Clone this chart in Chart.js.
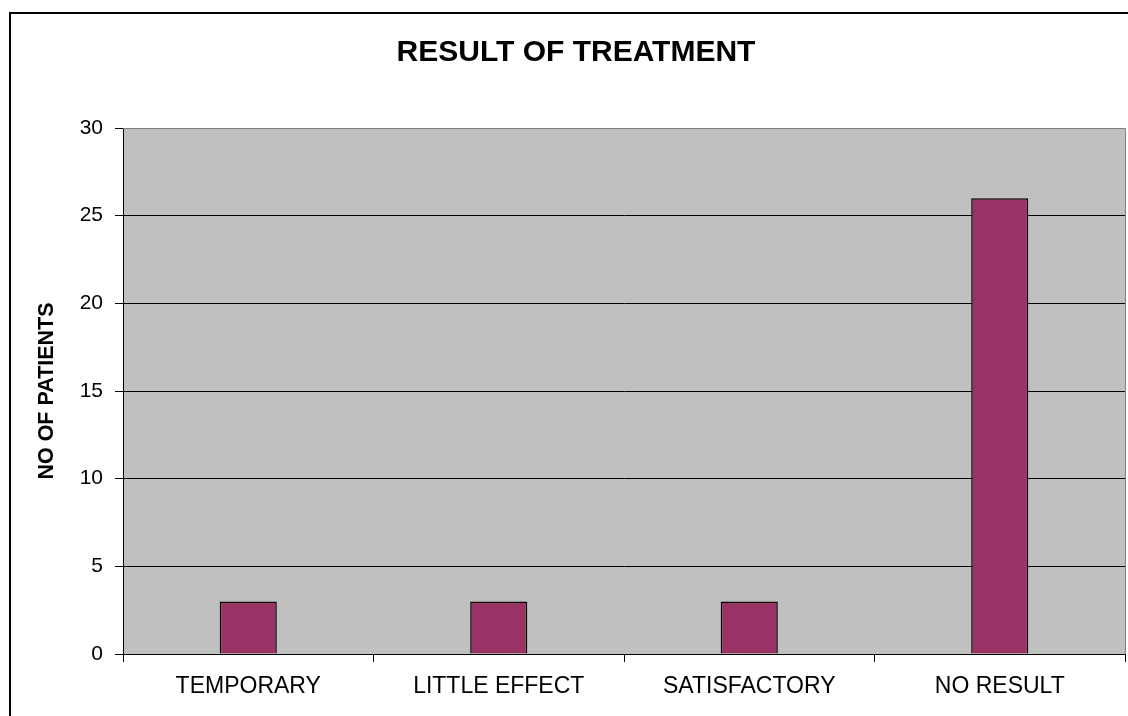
<!DOCTYPE html>
<html>
<head>
<meta charset="utf-8">
<title>Result of treatment</title>
<script src="https://cdn.jsdelivr.net/npm/chart.js@4.4.7/dist/chart.umd.js"></script>
<style>
  html, body { margin: 0; padding: 0; background: #fff; }
  #wrap { width: 1128px; height: 716px; }
</style>
</head>
<body>
<div id="wrap"><canvas id="chart" width="1128" height="716"></canvas></div>
<script>
// 数据
const categories = ["TEMPORARY", "LITTLE EFFECT", "SATISFACTORY", "NO RESULT"];
const patients = [3, 3, 3, 26];
const yTicks = [0, 5, 10, 15, 20, 25, 30];

const FONT = "'Liberation Sans', Arial, sans-serif";

// 灰色绘图区 + 外框
const frame = {
  id: "frame",
  beforeDraw(chart) {
    const { ctx, chartArea: a } = chart;
    ctx.save();
    ctx.fillStyle = "#fff";
    ctx.fillRect(0, 0, chart.width, chart.height);
    ctx.fillStyle = "#C0C0C0";
    ctx.fillRect(a.left, a.top, a.right - a.left, a.bottom - a.top);
    ctx.restore();
  },
  afterDraw(chart) {
    const { ctx, chartArea: a } = chart;
    ctx.save();
    ctx.strokeStyle = "#808080";
    ctx.lineWidth = 1;
    ctx.beginPath();
    ctx.moveTo(a.left, a.top + 0.5);
    ctx.lineTo(a.right + 0.5, a.top + 0.5);
    ctx.lineTo(a.right + 0.5, a.bottom);
    ctx.stroke();
    ctx.strokeStyle = "#000";
    ctx.lineWidth = 2;
    ctx.strokeRect(10, 13, 1400, 900);
    ctx.restore();
  }
};

new Chart(document.getElementById("chart"), {
  type: "bar",
  data: {
    labels: categories,
    datasets: [{
      data: patients,
      backgroundColor: "#993366",
      borderColor: "#000",
      borderWidth: 1.5,
      categoryPercentage: 1,
      barPercentage: 0.228
    }]
  },
  options: {
    responsive: false,
    animation: false,
    layout: { padding: { left: 27, top: 0, right: 3, bottom: 0 } },
    plugins: {
      legend: { display: false },
      tooltip: { enabled: false },
      title: {
        display: true,
        text: "RESULT OF TREATMENT",
        color: "#000",
        font: { family: FONT, size: 30, weight: "bold" },
        padding: { top: 34.5, bottom: 57.5 }
      }
    },
    scales: {
      x: {
        afterFit: (s) => { s.height = 62; },
        grid: {
          offset: true,
          drawOnChartArea: false,
          tickLength: 8,
          tickColor: "#000"
        },
        border: { color: "#000", width: 1 },
        ticks: {
          color: "#000",
          padding: 11,
          font: { family: FONT, size: 23 }
        }
      },
      y: {
        min: 0,
        max: 30,
        afterFit: (s) => { s.width = 96; },
        afterBuildTicks: (s) => { s.ticks = yTicks.map((v) => ({ value: v })); },
        grid: {
          color: (c) => (c.tick && c.tick.value === 30 ? "#808080" : "#000"),
          tickColor: "#000",
          tickLength: 8
        },
        border: { color: "#000", width: 1 },
        ticks: {
          color: "#000",
          padding: 12,
          font: { family: FONT, size: 21 }
        },
        title: {
          display: true,
          text: "NO OF PATIENTS",
          color: "#000",
          font: { family: FONT, size: 21.5, weight: "bold" },
          padding: { top: 7, bottom: 0 }
        }
      }
    }
  },
  plugins: [frame]
});
</script>
</body>
</html>
